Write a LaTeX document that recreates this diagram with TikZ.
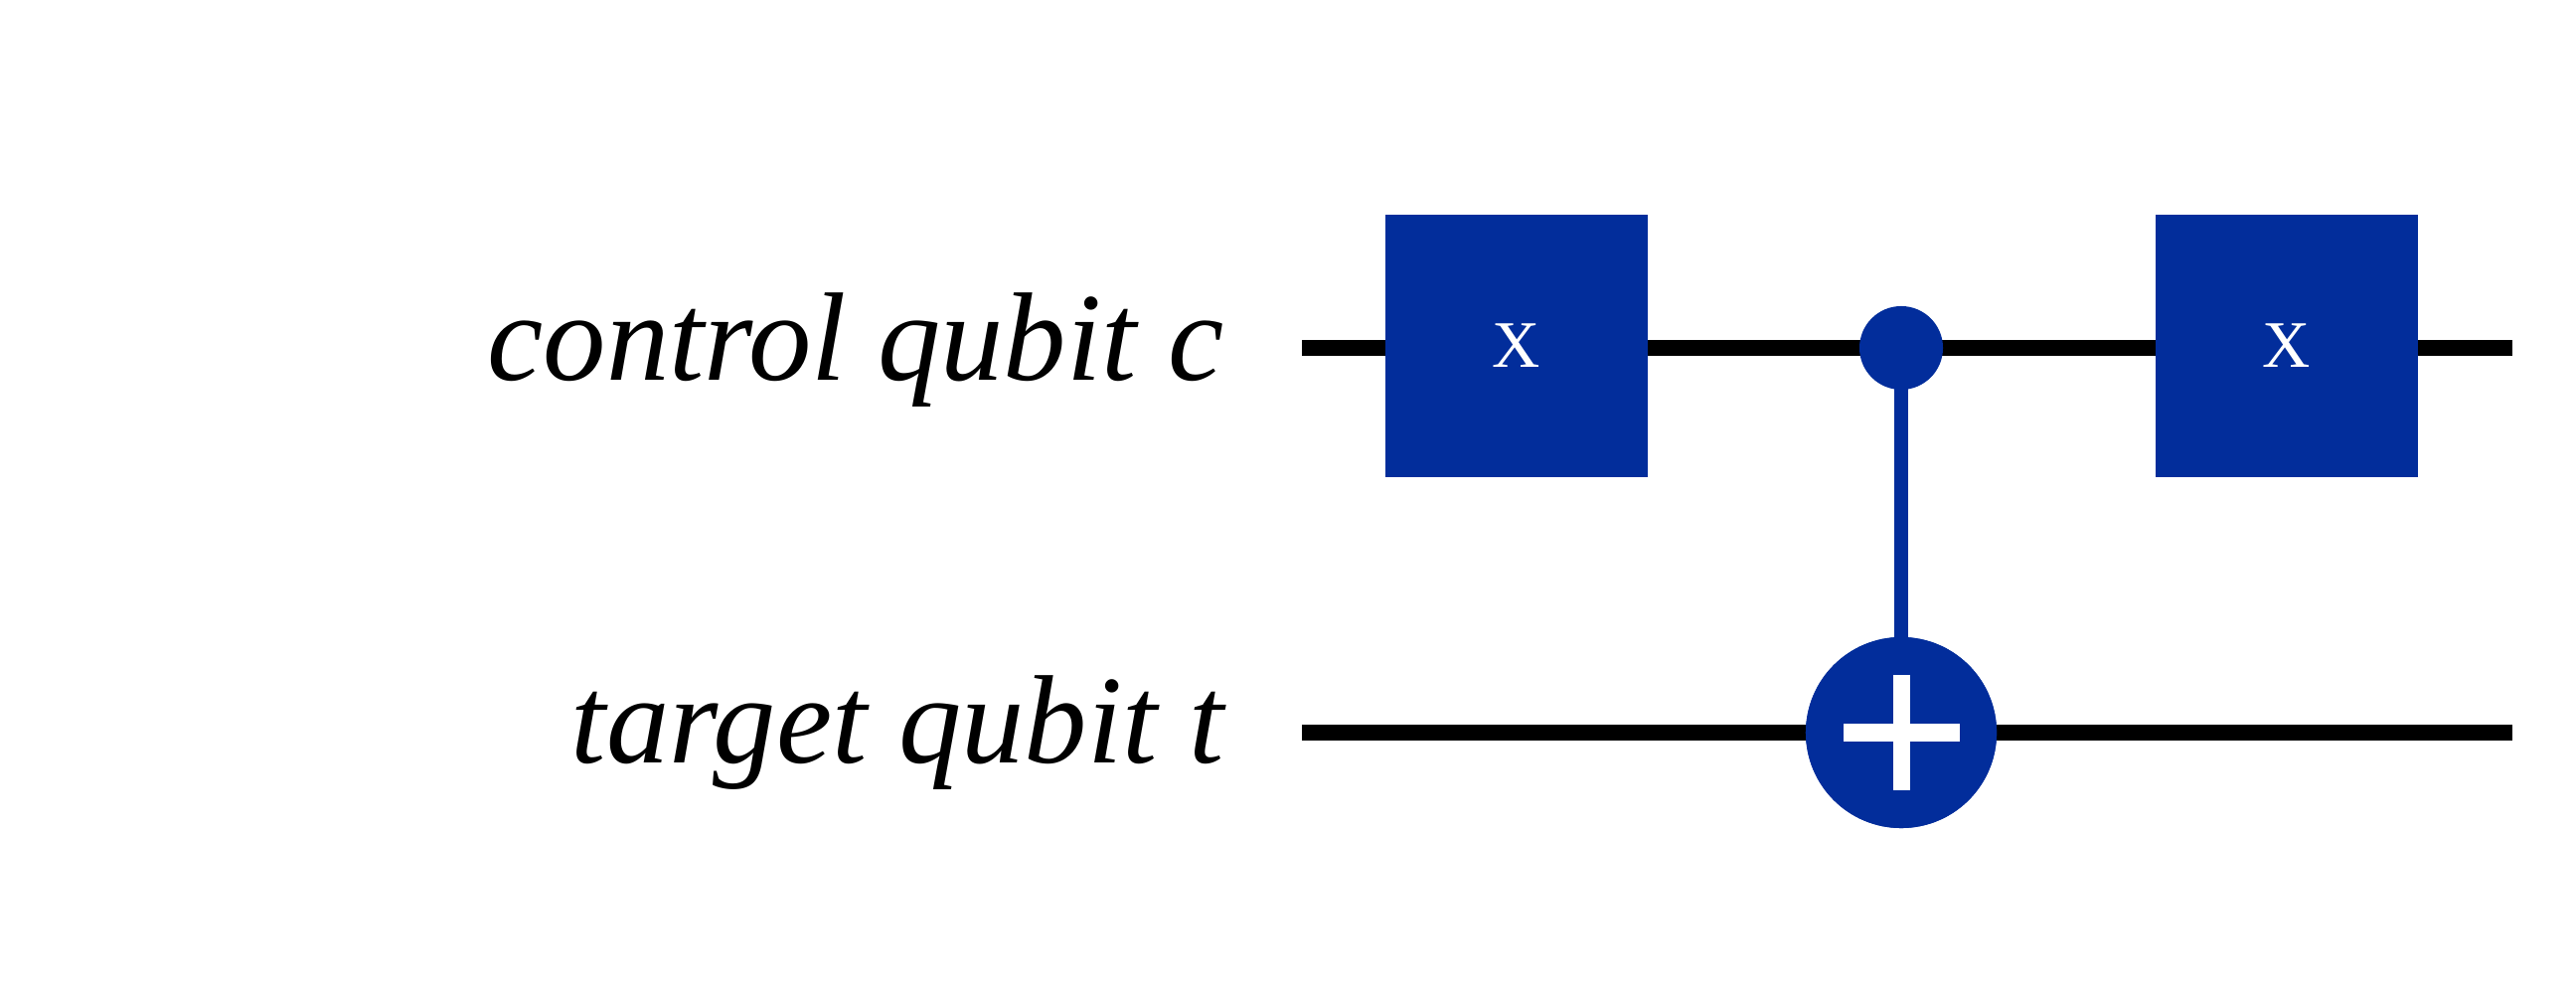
\documentclass[tikz,border=0pt]{standalone}
\usepackage{fontspec}
\setmainfont{Liberation Serif}
\definecolor{qblue}{HTML}{022D9B}
\begin{document}
\begin{tikzpicture}[x=0.01cm,y=-0.01cm,
  wire/.style={line width=0.16cm,black},
  gatebox/.style={fill=qblue,draw=none,minimum width=2.63cm,minimum height=2.63cm,inner sep=0pt,text=white,font=\fontsize{19}{19}\selectfont},
  lbl/.style={anchor=east,font=\fontsize{36}{36}\selectfont\itshape,inner sep=0pt}]
\useasboundingbox (0,0) rectangle (2592,1007);
\coordinate (c0) at (1310,350); \coordinate (c1) at (2528,350);
\coordinate (t0) at (1310,737); \coordinate (t1) at (2528,737);
\draw[wire] (c0) -- (c1);
\draw[wire] (t0) -- (t1);
\node[lbl] (lc) at (1232,352) {control qubit c};
\node[lbl] (lt) at (1232,737) {target qubit t};
\node[gatebox] (x1) at (1526,348) {X};
\node[gatebox] (x2) at (2301,348) {X};
\node[circle,fill=qblue,minimum size=0.84cm,inner sep=0pt] (ctl) at (1913,350) {};
\node[circle,fill=qblue,minimum size=1.92cm,inner sep=0pt] (tgt) at (1913,737) {};
\draw[qblue,line width=0.14cm] (ctl.center) -- (tgt.center);
\node[circle,fill=qblue,minimum size=1.92cm,inner sep=0pt] (tgt2) at (1913,737) {};
\draw[white,line width=0.17cm] (1855,737) -- (1972,737);
\draw[white,line width=0.17cm] (1913,679) -- (1913,795);
\end{tikzpicture}
\end{document}
